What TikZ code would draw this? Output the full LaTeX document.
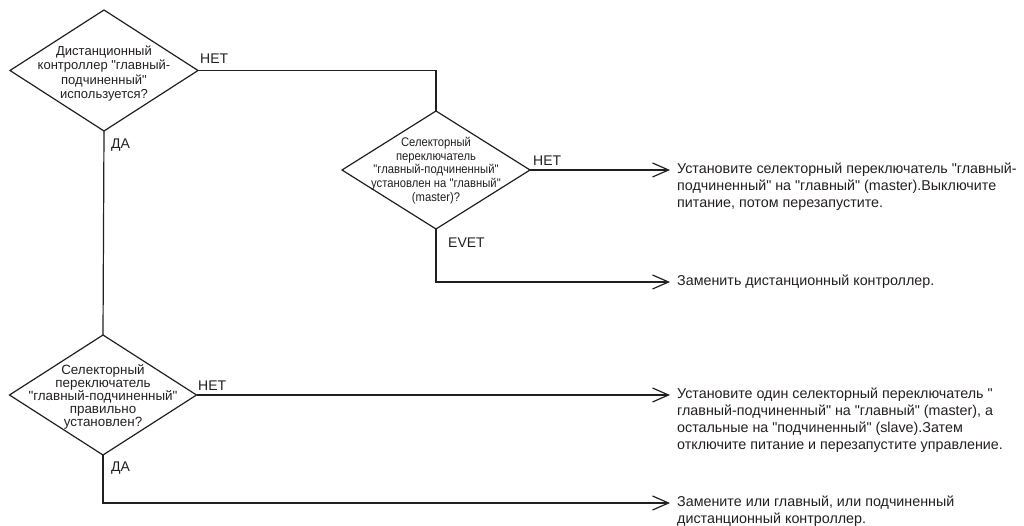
\documentclass[tikz,border=0pt]{standalone}
\usepackage{fontspec}
\setmainfont{Liberation Sans}[Ligatures=TeXOff]
\newfontfamily\narrowfont{Liberation Sans}[FakeStretch=0.9,Ligatures=TeXOff]
\usetikzlibrary{shapes.geometric,arrows.meta}
\definecolor{ink}{HTML}{231F20}
\tikzset{
  dia/.style={diamond,draw=ink,line width=1.2pt,inner sep=0pt,outer sep=0pt},
  dtext/.style={align=center,inner sep=0pt,text=ink,font=\fontsize{13}{14.4}\selectfont},
  ttext/.style={align=center,inner sep=0pt,text=ink,font=\fontsize{13.4}{13.2}\selectfont},
  ntext/.style={align=center,inner sep=0pt,text=ink,font=\narrowfont\fontsize{12.5}{13.7}\selectfont},
  atext/.style={align=left,anchor=north west,inner sep=0pt,text=ink,font=\fontsize{14.3}{16.8}\selectfont},
  lab/.style={anchor=west,inner sep=0pt,text=ink,font=\fontsize{14}{16}\selectfont},
  conn/.style={draw=ink,line width=1.2pt},
  arr/.style={conn,-{Straight Barb[length=16pt,width=14pt,line width=1.2pt]}}
}
\begin{document}
\begin{tikzpicture}[x=1pt,y=-1pt]
\useasboundingbox (0,0) rectangle (1024,526);
% decisions
\node[dia,minimum width=188pt,minimum height=121pt] (d1) at (104,70.5) {};
\node[dtext] (d1t) at (104,73.5) {Дистанционный\\контроллер "главный-\\подчиненный"\\используется?};
\node[dia,minimum width=188pt,minimum height=118pt] (d2) at (436,170) {};
\node[ntext] (d2t) at (436,170.5) {Селекторный\\переключатель\\"главный-подчиненный"\\установлен на "главный"\\(master)?};
\node[dia,minimum width=187pt,minimum height=120pt] (d3) at (103,395) {};
\node[ttext] (d3t) at (103,397) {Селекторный\\переключатель\\"главный-подчиненный"\\правильно\\установлен?};
% arrow end points
\coordinate (t1) at (670,170);
\coordinate (t2) at (670,282);
\coordinate (t3) at (670,395);
\coordinate (t4) at (670,503);
% actions
\node[atext] (a1) at (677,163) {Установите селекторный переключатель "главный-\\подчиненный" на "главный" (master).Выключите\\питание, потом перезапустите.};
\node[atext] (a2) at (677,275) {Заменить дистанционный контроллер.};
\node[atext] (a3) at (677,388) {Установите один селекторный переключатель "\\главный-подчиненный" на "главный" (master), а\\остальные на "подчиненный" (slave).Затем\\отключите питание и перезапустите управление.};
\node[atext] (a4) at (677,496) {Замените или главный, или подчиненный\\дистанционный контроллер.};
% connectors
\draw[conn] (d1.east) -- (d1.east -| d2.north) -- (d2.north);
\draw[conn] (d1.south) -- (d3.north);
\draw[arr] (d2.east) -- (t1);
\draw[arr] (d2.south) |- (t2);
\draw[arr] (d3.east) -- (t3);
\draw[arr] (d3.south) |- (t4);
% labels
\node[lab] (l1) at (200,59) {НЕТ};
\node[lab] (l2) at (111,145) {ДА};
\node[lab] (l3) at (533,161) {НЕТ};
\node[lab] (l4) at (448,243) {EVET};
\node[lab] (l5) at (198,386) {НЕТ};
\node[lab] (l6) at (111,468) {ДА};
\end{tikzpicture}
\end{document}
